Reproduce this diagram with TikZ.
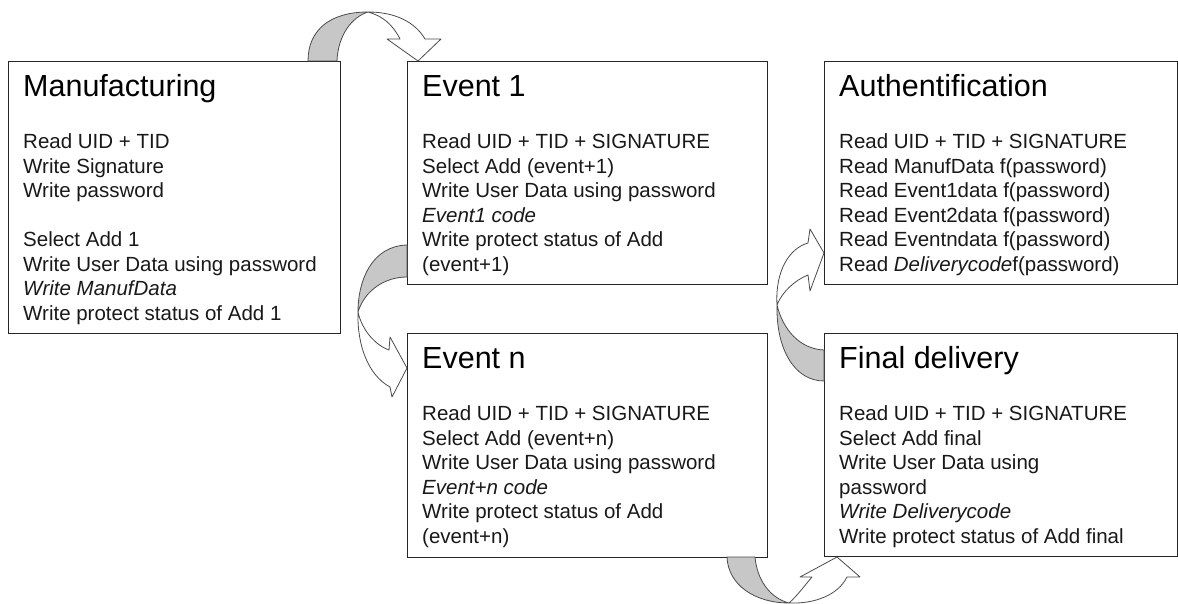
\documentclass[tikz,border=0pt]{standalone}
\usepackage{fontspec}
\setmainfont{Liberation Sans}
\begin{document}
\begin{tikzpicture}[x=1pt,y=-1pt,
  box/.style={draw=black!85, line width=1.1pt, fill=white, inner sep=0pt, anchor=north west},
  ttl/.style={font=\fontsize{30.5}{36}\selectfont, anchor=base west, inner sep=0pt, text=black},
  body/.style={font=\fontsize{20.5}{24.5}\selectfont, anchor=north west, align=left, inner sep=0pt, text=black!90},
  back/.style={fill=black!22, draw=black!70, line width=0.8pt, line join=round},
  front/.style={fill=white, draw=black!70, line width=0.8pt, line join=round}]
\useasboundingbox[fill=white] (0,0) rectangle (1178,604);

% boxes
\node[box, minimum width=332pt, minimum height=272pt] (manuf) at (8,61) {};
\node[box, minimum width=360pt, minimum height=223pt] (ev1) at (407,61) {};
\node[box, minimum width=360pt, minimum height=224pt] (evn) at (407,333) {};
\node[box, minimum width=353pt, minimum height=223pt] (auth) at (824,61) {};
\node[box, minimum width=353pt, minimum height=223pt] (final) at (824,333) {};

% titles
\node[ttl] (manuft) at (23,96.5) {Manufacturing};
\node[ttl] (ev1t) at (422,96.5) {Event 1};
\node[ttl] (autht) at (839,96.5) {Authentification};
\node[ttl] (evnt) at (422,368.5) {Event n};
\node[ttl] (finalt) at (839,368.5) {Final delivery};

% bodies
\node[body] (manufb) at (23,131.35) {\strut Read UID + TID\\Write Signature\\Write password\\[24.5pt]Select Add 1\\Write User Data using password\\\textit{Write ManufData}\\Write protect status of Add 1};
\node[body] (ev1b) at (422,131.35) {\strut Read UID + TID + SIGNATURE\\Select Add (event+1)\\Write User Data using password\\\textit{Event1 code}\\Write protect status of Add\\(event+1)};
\node[body] (authb) at (839,131.35) {\strut Read UID + TID + SIGNATURE\\Read ManufData f(password)\\Read Event1data f(password)\\Read Event2data f(password)\\Read Eventndata f(password)\\Read \textit{Deliverycode}f(password)};
\node[body] (evnb) at (422,403.35) {\strut Read UID + TID + SIGNATURE\\Select Add (event+n)\\Write User Data using password\\\textit{Event+n code}\\Write protect status of Add\\(event+n)};
\node[body] (finalb) at (839,403.35) {\strut Read UID + TID + SIGNATURE\\Select Add final\\Write User Data using\\password\\\textit{Write Deliverycode}\\Write protect status of Add final};

% arrow 1: Manufacturing -> Event 1
\draw[back] (308,61) .. controls (308,30) and (330,12) .. (368,12)
  .. controls (352,17) and (338,35) .. (337,61) -- cycle;
\draw[front] (368,12) .. controls (395,12) and (415,22) .. (425,39)
  -- (441,39) -- (418,61) -- (387,39) -- (400,39)
  .. controls (393,25) and (383,16) .. (368,12) -- cycle;

% arrow 2: Event 1 -> Event n
\draw[back] (407,245) .. controls (372,246) and (358,280) .. (358,312)
  .. controls (365,290) and (385,277) .. (407,277) -- cycle;
\draw[front] (358,312) .. controls (362,330) and (375,345) .. (389,350)
  -- (390,337) -- (407,368) -- (392,397) -- (390,387)
  .. controls (368,375) and (357,345) .. (358,312) -- cycle;

% arrow 3: Event n -> Final delivery
\draw[back] (727,557) .. controls (728,585) and (755,603) .. (789,603)
  .. controls (770,598) and (757,580) .. (755,557) -- cycle;
\draw[front] (789,603) .. controls (798,595) and (805,585) .. (812,577)
  -- (800,577) -- (837,557) -- (860,577) -- (847,577)
  .. controls (838,595) and (815,604) .. (789,603) -- cycle;

% arrow 4: Final delivery -> Authentification
\draw[back] (824,381) .. controls (795,381) and (776,350) .. (777,305)
  .. controls (783,330) and (800,349) .. (824,350) -- cycle;
\draw[front] (777,305) .. controls (775,270) and (790,248) .. (808,243)
  -- (810,229) -- (824,253) -- (810,291) -- (808,275)
  .. controls (795,280) and (782,292) .. (777,305) -- cycle;
\end{tikzpicture}
\end{document}
